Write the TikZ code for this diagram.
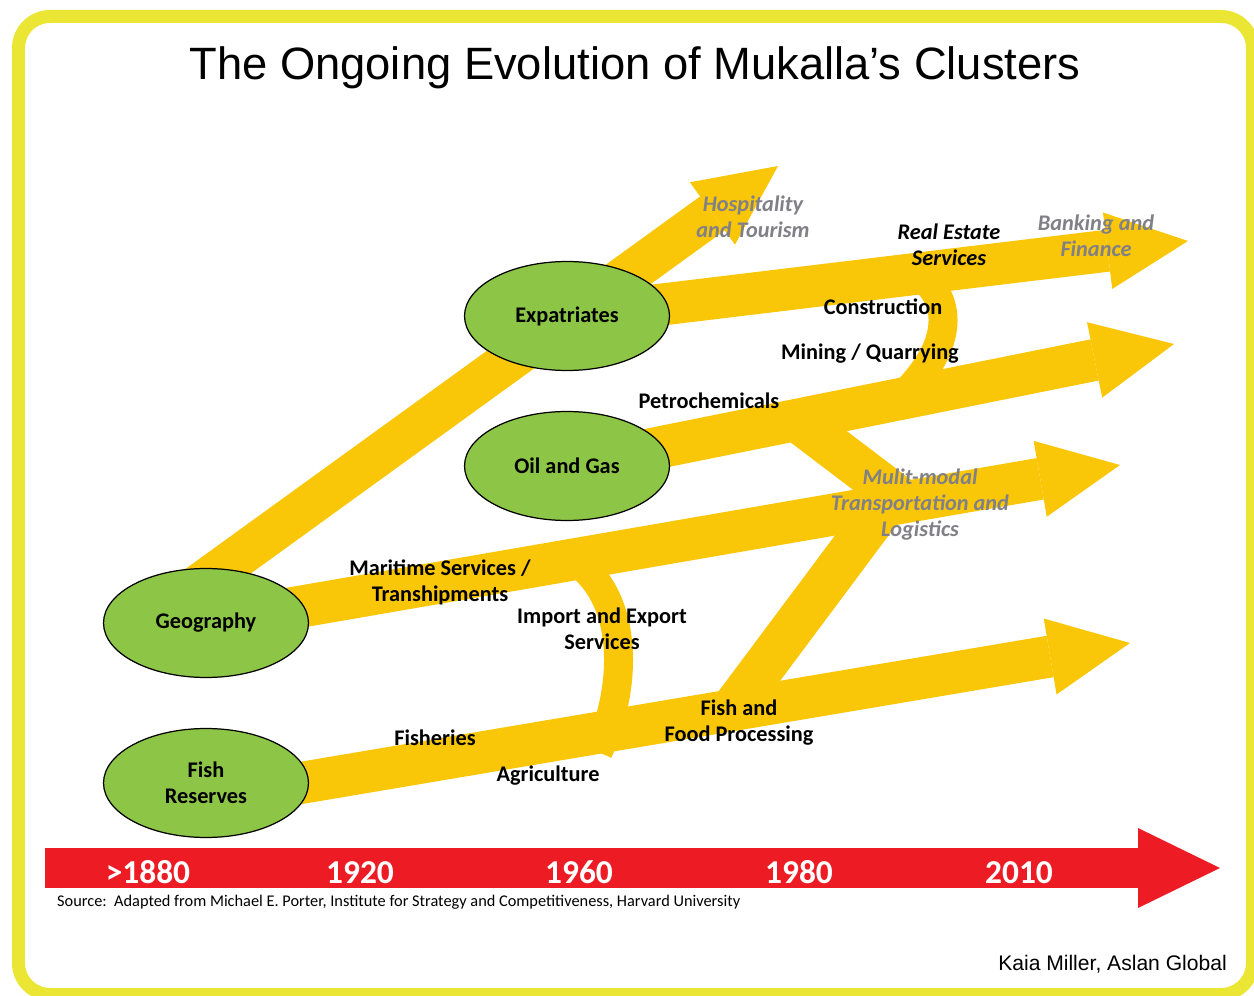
\documentclass[tikz,border=0pt]{standalone}
\usepackage{fontspec}
\setmainfont{Liberation Sans}
\newfontfamily\carlito{Carlito}
\usetikzlibrary{arrows.meta,backgrounds,calc,shapes.geometric}

\definecolor{framey}{RGB}{234,230,51}
\definecolor{bandgold}{RGB}{249,198,8}
\definecolor{leafg}{RGB}{141,198,70}
\definecolor{tlred}{RGB}{237,28,36}
\definecolor{labgray}{RGB}{128,128,134}

\tikzset{
  band/.style={draw=bandgold, line width=0.84cm, -{Triangle[width=1.54cm,length=1.62cm,line width=0pt]}},
  spur/.style={draw=bandgold, line width=0.86cm},
  curl/.style={draw=bandgold, line width=0.58cm},
  cluster/.style={ellipse, draw=black, line width=0.7pt, fill=leafg, minimum width=4.1cm, minimum height=2.18cm, inner sep=0pt, align=center, font=\carlito\bfseries\fontsize{12.7}{14.8}\selectfont},
  lab/.style={align=center, font=\carlito\bfseries\fontsize{12.7}{14.8}\selectfont},
  estate/.style={lab, font=\carlito\bfseries\itshape\fontsize{12.7}{14.8}\selectfont},
  newlab/.style={estate, text=labgray},
  year/.style={anchor=base, text=white, font=\carlito\bfseries\fontsize{19}{22}\selectfont},
}

\begin{document}
\begin{tikzpicture}[x=0.02cm,y=-0.02cm]
\useasboundingbox (0,0) rectangle (1254,996);
\clip (0,0) rectangle (1254,996);
\draw[framey, line width=0.26cm, rounded corners=0.63cm] (18.5,16.5) rectangle (1252.5,994.5);

\node[font=\fontsize{25.8}{31}\selectfont] (title) at (635,68) {The Ongoing Evolution of Mukalla’s Clusters};

% clusters
\node[cluster] (expat) at (567,316) {Expatriates};
\node[cluster] (oil) at (567,466) {Oil and Gas};
\node[cluster] (geo) at (206,623) {Geography};
\node[cluster] (fishres) at (206,783) {Fish\\Reserves};

% arrow ends and forks
\coordinate (hosp) at (778,166);
\coordinate (bank) at (1188,241);
\coordinate (mine) at (1174,344);
\coordinate (trans) at (1120,465);
\coordinate (food) at (1130,643);
\coordinate (petro fork) at (794,418);
\coordinate (trans join) at (902,500);
\coordinate (food fork) at (730,712);
\coordinate (trans knee) at (883,507);
\coordinate (constr top) at (925,280);
\coordinate (constr end) at (910,388);
\coordinate (trade top) at (580,565);
\coordinate (trade end) at (598,752);

\begin{scope}[on background layer]
\draw[band] ($(geo.center)+(-18,-30)$) -- (hosp);
\draw[band] (expat.center) -- (bank);
\draw[band] (oil.center) -- (mine);
\draw[band] (geo.center) -- (trans);
\draw[band] ($(fishres.center)+(0,16)$) -- (food);
\draw[spur] (petro fork) -- (trans join);
\draw[spur] (food fork) -- (trans knee);
\draw[curl] (constr top) .. controls (952,305) and (950,345) .. (constr end);
\draw[curl] (trade top) .. controls (625,600) and (630,680) .. (trade end);
\end{scope}

% labels
\node[newlab] (hosp lab) at (753,217) {Hospitality\\and Tourism};
\node[estate] (estate lab) at (949,245) {Real Estate\\Services};
\node[newlab] (bank lab) at (1096,236) {Banking and\\Finance};
\node[lab] (constr lab) at (883,307) {Construction};
\node[lab] (mine lab) at (870,354) {Mining / Quarrying};
\node[lab] (petro lab) at (709,401) {Petrochemicals};
\node[newlab] (logi lab) at (920,505) {Mulit-modal\\Transportation and\\Logistics};
\node[lab] (mari lab) at (440,582) {Maritime Services /\\Transhipments};
\node[lab] (trade lab) at (602,629) {Import and Export\\Services};
\node[lab] (fishery lab) at (435,738) {Fisheries};
\node[lab] (agri lab) at (548,776) {Agriculture};
\node[lab] (proc lab) at (739,723) {Fish and\\Food Processing};

% timeline
\coordinate (tl start) at (45,868);
\coordinate (tl end) at (1220,868);
\draw[draw=tlred, line width=0.8cm, -{Triangle[width=1.6cm,length=1.64cm,line width=0pt]}] (tl start) -- (tl end);
\foreach \yr/\xx in {>1880/148,1920/360,1960/579,1980/799,2010/1019}
  \node[year] (yr\xx) at (\xx,883) {\yr};

\node[anchor=west, font=\carlito\fontsize{9.3}{11}\selectfont] (src) at (51,902) {Source:\ \ Adapted from Michael E. Porter, Institute for Strategy and Competitiveness, Harvard University};
\node[anchor=east, font=\fontsize{12}{14}\selectfont] (credit) at (1233,964) {Kaia Miller, Aslan Global};
\end{tikzpicture}
\end{document}
